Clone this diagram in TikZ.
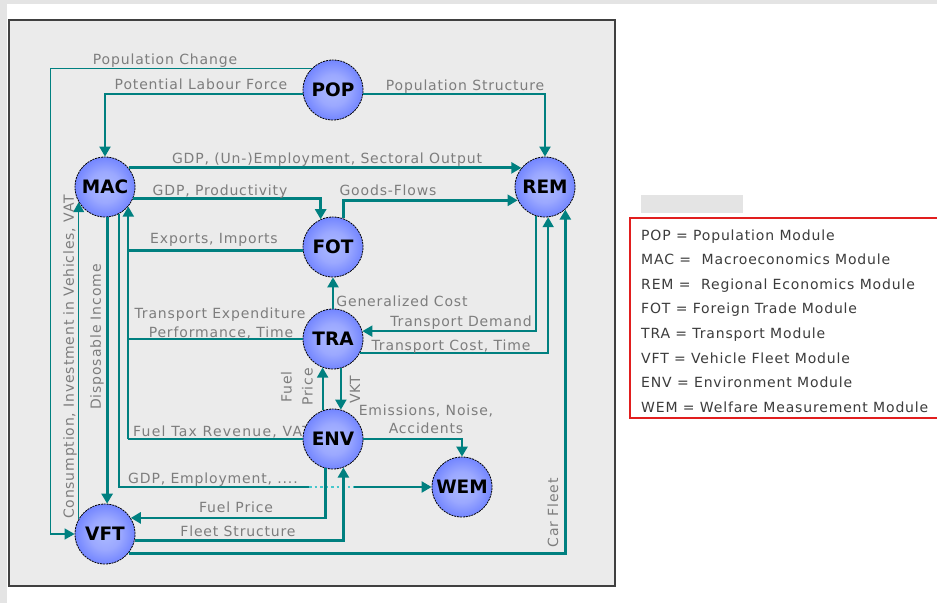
\documentclass[tikz,border=0pt]{standalone}
\usepackage{fontspec}
\setmainfont{DejaVu Sans}[LetterSpace=6]
\newfontfamily\modulefont{DejaVu Sans}
\newfontfamily\widefont{DejaVu Sans}[LetterSpace=9]
\usetikzlibrary{arrows.meta}
\definecolor{flowteal}{RGB}{0,128,128}
\definecolor{gapcyan}{RGB}{70,200,205}
\definecolor{labelgray}{RGB}{125,125,125}
\definecolor{legendtext}{RGB}{60,60,60}
\definecolor{boxgray}{RGB}{235,235,235}
\definecolor{pagegray}{RGB}{228,228,228}
\definecolor{legendred}{RGB}{225,30,30}
\definecolor{ballblue}{RGB}{40,70,255}
\definecolor{ballrim}{RGB}{105,125,255}
\definecolor{ballmid}{RGB}{155,168,255}
\definecolor{balllight}{RGB}{172,186,255}
% light centre, blue rim
\pgfdeclareradialshading{moduleball}{\pgfpoint{0bp}{0bp}}{%
  color(0bp)=(balllight); color(13bp)=(ballmid); color(28bp)=(ballrim);
  color(37bp)=(ballblue); color(50bp)=(ballblue)}
\tikzset{
  % round module node
  module/.style={circle,minimum size=60pt,inner sep=0pt,shading=moduleball,
    draw=black,line width=0.8pt,dash pattern=on 2pt off 0.9pt,
    font=\modulefont\fontsize{18.5}{18}\selectfont\bfseries},
  % connectors between the modules
  flow/.style={draw=flowteal,line width=2pt},
  thinflow/.style={flow,line width=1.3pt},
  thickflow/.style={flow,line width=2.8pt},
  % gray texts on the connectors
  lbl/.style={text=labelgray,font=\fontsize{14}{21}\selectfont,inner sep=0pt,anchor=base},
  legend/.style={text=legendtext,font=\fontsize{14}{16}\selectfont,inner sep=0pt,anchor=base west},
}
\begin{document}
\begin{tikzpicture}[x=1pt,y=-1pt,>={Triangle[length=10pt,width=11pt]}]
\useasboundingbox (0,0) rectangle (937,603);
\fill[white] (0,0) rectangle (937,603);
\fill[pagegray] (0,0) rectangle (937,4);
\fill[pagegray] (0,0) rectangle (7,603);
\draw[fill=boxgray,draw=black!75,line width=1.5pt] (9,20) rectangle (615,586);
% this one runs under ENV
\node[lbl,anchor=base west,font=\widefont\fontsize{14}{21}\selectfont] (fueltax) at (133,436) {Fuel Tax Revenue, VAT};

% modules
\node[module] (POP) at (333,90) {POP};
\node[module] (MAC) at (105,187) {MAC};
\node[module] (REM) at (545,187) {REM};
\node[module] (FOT) at (333,247) {FOT};
\node[module] (TRA) at (333,339) {TRA};
\node[module] (ENV) at (333,439) {ENV};
\node[module] (WEM) at (462,487) {WEM};
\node[module] (VFT) at (105,534) {VFT};
\coordinate (gapL) at (309,487);
\coordinate (gapR) at (354,487);

% connectors
\draw[thinflow,->] (POP.135) -- ++(-261,0) |- (VFT.west);
\draw[flow,->] (POP.187) -| (MAC.north);
\draw[flow,->] (POP.-7) -| (REM.north);
\draw[thickflow,->] (MAC.39) -- (REM.141);
\draw[thickflow,->] (MAC.-22) -| (FOT.114);
\draw[thickflow,->] (FOT.70) |- (REM.206);
\draw[thickflow] (FOT.186) -- (FOT.186 -| MAC.-40);
\draw[thickflow] (TRA.west) -- (TRA.west -| MAC.-40);
\draw[thickflow] (ENV.west) -- (ENV.west -| MAC.-40);
\draw[flow,->] (ENV.west -| MAC.-40) -- (MAC.-40);
\draw[thickflow,->] (MAC.-86) -- (VFT.86);
\draw[thinflow,->] (VFT.150) -- (MAC.-150);
\draw[flow] (MAC.-62) |- (gapL);
\draw[flow,draw=gapcyan,dash pattern=on 2.5pt off 3pt] (gapL) -- (gapR);
\draw[flow,->] (gapR) -- (WEM.west);
\draw[thickflow,->] (TRA.north) -- (FOT.south);
\draw[flow,->] (REM.-107) |- (TRA.15);
\draw[flow,->] (TRA.-28) -| (REM.-84);
\draw[flow,->] (ENV.110) -- (TRA.-110);
\draw[flow,->] (TRA.-75) -- (ENV.75);
\draw[thickflow,->] (ENV.east) -| (WEM.north);
\draw[thickflow,->] (ENV.-105) |- (VFT.32);
\draw[thickflow,->] (VFT.-13) -| (ENV.-70);
\draw[thickflow,->] (VFT.-39) -| (REM.-48);

% connector texts
\node[lbl] (popchange) at (165,64) {Population Change};
\node[lbl] (labour) at (201,89) {Potential Labour Force};
\node[lbl] (popstruct) at (465,90) {Population Structure};
\node[lbl] (gdpemp) at (327,163) {GDP, (Un-)Employment, Sectoral Output};
\node[lbl] (gdpprod) at (220,195) {GDP, Productivity};
\node[lbl] (goods) at (388,195) {Goods-Flows};
\node[lbl] (exports) at (214,243) {Exports, Imports};
\node[lbl] (trexp) at (220,318) {Transport Expenditure};
\node[lbl] (perf) at (221,337) {Performance, Time};
\node[lbl] (gencost) at (402,306) {Generalized Cost};
\node[lbl] (trdemand) at (461,326) {Transport Demand};
\node[lbl] (trcost) at (451,350) {Transport Cost, Time};
\node[lbl] (emis) at (426,415) {Emissions, Noise,};
\node[lbl] (accid) at (426,433) {Accidents};
\node[lbl,anchor=base west] (gdpwem) at (128,483) {GDP, Employment, ....};
\node[lbl] (fuelvft) at (236,512) {Fuel Price};
\node[lbl] (fleet) at (238,536) {Fleet Structure};
\node[lbl,anchor=center,rotate=90,align=center] (fueltra) at (297,387) {Fuel\\Price};
\node[lbl,anchor=center,rotate=90] (vkt) at (355,390) {VKT};
\node[lbl,anchor=center,rotate=90] (carfleet) at (553,513) {Car Fleet};
\node[lbl,anchor=center,rotate=90] (dispinc) at (97,337) {Disposable Income};
\node[lbl,anchor=center,rotate=90] (consum) at (70,357) {Consumption, Investment in Vehicles, VAT};

% legend
\fill[pagegray] (641,195) rectangle (743,213);
\draw[legendred,line width=1.5pt] (630,218) rectangle (950,418);
\node[legend] (lpop) at (641,240) {POP = Population Module};
\node[legend] (lmac) at (641,264.6) {MAC = \ Macroeconomics Module};
\node[legend] (lrem) at (641,289.2) {REM = \ Regional Economics Module};
\node[legend] (lfot) at (641,313.8) {FOT = Foreign Trade Module};
\node[legend] (ltra) at (641,338.4) {TRA = Transport Module};
\node[legend] (lvft) at (641,363) {VFT = Vehicle Fleet Module};
\node[legend] (lenv) at (641,387.6) {ENV = Environment Module};
\node[legend] (lwem) at (641,412.2) {WEM = Welfare Measurement Module};
\end{tikzpicture}
\end{document}
